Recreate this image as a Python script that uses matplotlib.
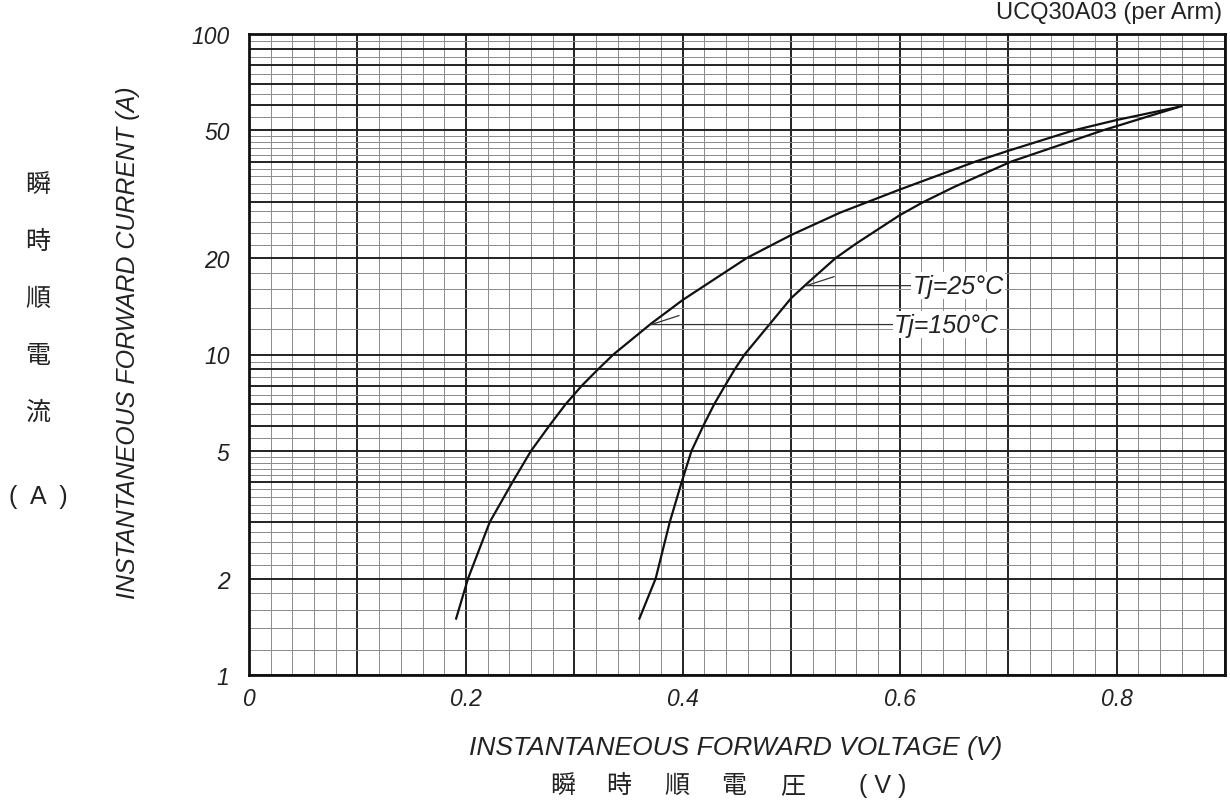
import numpy as np
import matplotlib
matplotlib.use('Agg')
import matplotlib.pyplot as plt
from matplotlib.ticker import FixedLocator, FixedFormatter, NullFormatter

plt.rcParams['font.family'] = ['Liberation Sans', 'Noto Sans CJK JP', 'DejaVu Sans']

# --- data ---
vf_150 = [0.191, 0.202, 0.222, 0.243, 0.260, 0.277, 0.292, 0.307, 0.322, 0.336,
          0.371, 0.400, 0.459, 0.500, 0.545, 0.600, 0.670, 0.700, 0.760, 0.800, 0.860]
if_150 = [1.5, 2, 3, 4, 5, 6, 7, 8, 9, 10,
          12.5, 14.8, 20, 23.6, 27.7, 32.7, 40, 43.2, 50, 53.9, 59.5]

vf_25 = [0.360, 0.375, 0.388, 0.399, 0.408, 0.419, 0.429, 0.439, 0.448, 0.457,
         0.500, 0.515, 0.541, 0.560, 0.600, 0.621, 0.650, 0.703, 0.750, 0.787, 0.856]
if_25 = [1.5, 2, 3, 4, 5, 6, 7, 8, 9, 10,
         15, 16.7, 20, 22.2, 27.2, 29.8, 33.3, 40, 45.3, 50, 59.0]

labels = ['Tj=25°C', 'Tj=150°C']
label_pts = [(0.514, 16.4), (0.371, 12.4)]
label_text_x = [0.612, 0.595]

y_ticklabels = {1: '1', 2: '2', 5: '5', 10: '10', 20: '20', 50: '50', 100: '100'}
x_ticklabels = {0.0: '0', 0.2: '0.2', 0.4: '0.4', 0.6: '0.6', 0.8: '0.8'}

# grid lines of the log paper
y_major = [1, 2, 3, 4, 5, 6, 7, 8, 9, 10, 20, 30, 40, 50, 60, 70, 80, 90, 100]
y_minor = list(np.arange(1.2, 5.0, 0.2)) + list(np.arange(5.5, 10, 0.5)) + \
          list(np.arange(12, 50, 2)) + list(np.arange(55, 100, 5))
x_major = list(np.arange(0, 0.91, 0.1))
x_minor = list(np.arange(0, 0.9, 0.02))

fig = plt.figure(figsize=(12.3, 8.04), dpi=100)
ax = fig.add_axes([249 / 1230, 1 - 676 / 804, (1225 - 249) / 1230, (676 - 35) / 804])

ax.set_yscale('log')
ax.set_xlim(0, 0.9)
ax.set_ylim(1, 100)

ax.yaxis.set_major_locator(FixedLocator(y_major))
ax.yaxis.set_major_formatter(FixedFormatter([y_ticklabels.get(v, '') for v in y_major]))
ax.yaxis.set_minor_locator(FixedLocator(y_minor))
ax.yaxis.set_minor_formatter(NullFormatter())
ax.xaxis.set_major_locator(FixedLocator(x_major))
ax.xaxis.set_major_formatter(FixedFormatter(
    [x_ticklabels.get(round(v, 1), '') for v in x_major]))
ax.xaxis.set_minor_locator(FixedLocator(x_minor))

ax.grid(True, which='major', color='#222222', lw=1.4)
ax.grid(True, which='minor', color='#8a8a8a', lw=0.7)
ax.set_axisbelow(True)
ax.tick_params(which='both', length=0)
ax.tick_params(axis='y', pad=14, labelsize=16.5, labelcolor='#222222')
ax.tick_params(axis='x', pad=9, labelsize=16.5, labelcolor='#222222')
for t in ax.get_xticklabels() + ax.get_yticklabels():
    t.set_fontstyle('italic')
for s in ax.spines.values():
    s.set_linewidth(2.0)
    s.set_color('#111111')

ax.plot(vf_150, if_150, color='#111111', lw=1.6)
ax.plot(vf_25, if_25, color='#111111', lw=1.6)

for lab, (px, py), tx in zip(labels, label_pts, label_text_x):
    ax.annotate(lab, xy=(px, py), xytext=(tx, py), ha='left', va='center',
                fontsize=18, style='italic', color='#222222',
                bbox=dict(boxstyle='square,pad=0.05', fc='white', ec='none'),
                arrowprops=dict(arrowstyle='-', color='#333333', lw=0.9,
                                shrinkA=0, shrinkB=0))
    ax.annotate('', xy=(px, py), xytext=(20, 6.5), textcoords='offset points',
                arrowprops=dict(arrowstyle='-', color='#333333', lw=0.9,
                                shrinkA=0, shrinkB=0))

fig.text(1222 / 1230, 1 - 13 / 804, 'UCQ30A03 (per Arm)', ha='right', va='center',
         fontsize=17, color='#222222')

fig.text(128 / 1230, 1 - 343 / 804, 'INSTANTANEOUS FORWARD CURRENT (A)', rotation=90,
         ha='center', va='center', fontsize=18, style='italic', color='#222222')
fig.text(736 / 1230, 1 - 748 / 804, 'INSTANTANEOUS FORWARD VOLTAGE (V)',
         ha='center', va='center', fontsize=19, style='italic', color='#222222')

# japanese labels, spaced out like the datasheet
jp_x = ['瞬', '時', '順', '電', '圧', '( V )']
jp_x_pos = [563, 619, 677, 734, 793, 883]
for ch, xp in zip(jp_x, jp_x_pos):
    fig.text(xp / 1230, 1 - 786 / 804, ch, ha='center', va='center', fontsize=18,
             color='#222222')

jp_y = ['瞬', '時', '順', '電', '流', '(  A  )']
jp_y_pos = [185, 242, 299, 356, 413, 497]
for ch, yp in zip(jp_y, jp_y_pos):
    fig.text(38 / 1230, 1 - yp / 804, ch, ha='center', va='center', fontsize=18,
             color='#222222')

fig.savefig('out.png', dpi=100)
